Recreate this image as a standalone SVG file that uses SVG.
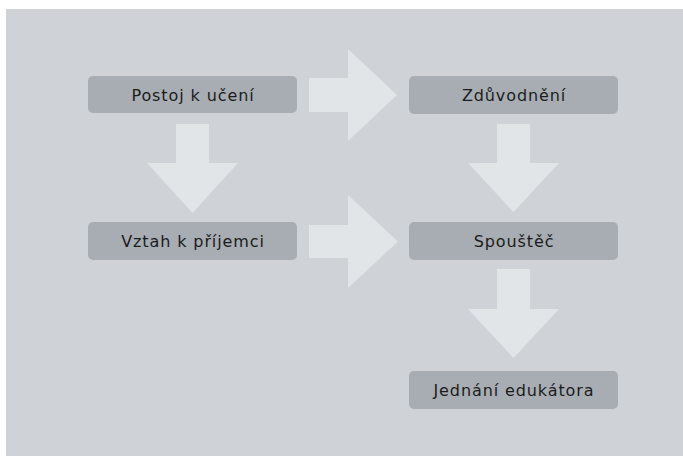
<svg xmlns="http://www.w3.org/2000/svg" width="683" height="457" viewBox="0 0 683 457">
<style>
.node rect{fill:#a7adb3}
.node text{font-family:"DejaVu Sans","Noto Sans",sans-serif;font-size:16px;fill:#1c1c1c;text-anchor:middle;letter-spacing:0.9px}
.arrow{fill:#e1e5e8}
</style>
<rect x="0" y="0" width="683" height="457" fill="#ffffff"/>
<rect x="6" y="9" width="677" height="447" fill="#cfd2d6"/>
<g id="connectors">
<polygon class="arrow" points="309,78 348,78 348,49 397,95 348,141 348,112 309,112"/>
<polygon class="arrow" points="309,225 348,225 348,195 398,241.5 348,288 348,258 309,258"/>
<polygon class="arrow" points="176,124 209,124 209,163 238,163 192.5,213 147,163 176,163"/>
<polygon class="arrow" points="497,124 530,124 530,163 559,163 513.5,212 468,163 497,163"/>
<polygon class="arrow" points="497,269 530,269 530,309 559,309 513.5,358 468,309 497,309"/>
</g>
<g id="node-postoj" class="node"><rect x="88" y="76" width="209" height="37" rx="5"/><text x="193" y="100.5">Postoj k učení</text></g>
<g id="node-zduvodneni" class="node"><rect x="409" y="76" width="209" height="38" rx="5"/><text x="514" y="101">Zdůvodnění</text></g>
<g id="node-vztah" class="node"><rect x="88" y="222" width="209" height="38" rx="5"/><text x="193" y="247">Vztah k příjemci</text></g>
<g id="node-spoustec" class="node"><rect x="409" y="222" width="209" height="38" rx="5"/><text x="514" y="247">Spouštěč</text></g>
<g id="node-jednani" class="node"><rect x="409" y="371" width="209" height="38" rx="5"/><text x="514" y="396">Jednání edukátora</text></g>
</svg>
